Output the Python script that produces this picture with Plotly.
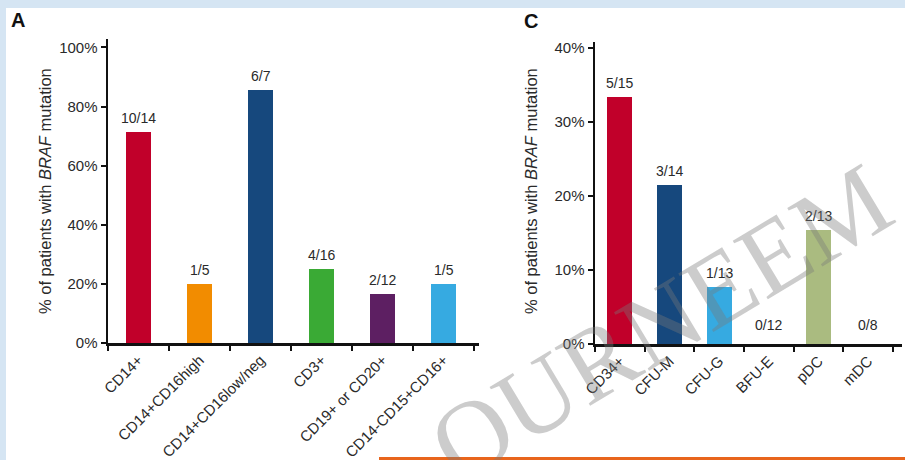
import plotly.graph_objects as go

W, H = 905, 460

# Panel A data
cats_a = ["CD14+", "CD14+CD16high", "CD14+CD16low/neg", "CD3+", "CD19+ or CD20+", "CD14-CD15+CD16+"]
pos_a = [10, 1, 6, 4, 2, 1]
tot_a = [14, 5, 7, 16, 12, 5]
colors_a = ["#C1002A", "#F28C00", "#16487D", "#3AAA35", "#5D1F62", "#36AAE1"]
yticks_a = [0, 20, 40, 60, 80, 100]

# Panel C data
cats_c = ["CD34+", "CFU-M", "CFU-G", "BFU-E", "pDC", "mDC"]
pos_c = [5, 3, 1, 0, 2, 0]
tot_c = [15, 14, 13, 12, 13, 8]
colors_c = ["#C1002A", "#16487D", "#36AAE1", "#36AAE1", "#AABB80", "#AABB80"]
yticks_c = [0, 10, 20, 30, 40]

ytitle = "% of patients with <i>BRAF</i> mutation"

FONT = "Liberation Sans, Arial, sans-serif"
TXT = "#2a2a2a"
BORDER = "#D5E5F3"

def px(x):
    return x / W

def py(y):
    return 1 - y / H

pct_a = [100 * p / t for p, t in zip(pos_a, tot_a)]
pct_c = [100 * p / t for p, t in zip(pos_c, tot_c)]

fig = go.Figure()
fig.add_trace(go.Bar(x=cats_a, y=pct_a, marker=dict(color=colors_a, line=dict(width=0)),
                     width=0.41, xaxis="x", yaxis="y", hoverinfo="skip"))
fig.add_trace(go.Bar(x=cats_c, y=pct_c, marker=dict(color=colors_c, line=dict(width=0)),
                     width=0.5, xaxis="x2", yaxis="y2", hoverinfo="skip"))

axis_common = dict(showgrid=False, zeroline=False, showline=True, linecolor="#111", linewidth=2.5,
                   ticks="outside", tickcolor="#111", tickwidth=2, ticklen=5, automargin=False,
                   fixedrange=True)
xfont = dict(family=FONT, size=15, color=TXT)
yfont = dict(family=FONT, size=15, color=TXT)

fig.update_layout(
    width=W, height=H, margin=dict(l=0, r=0, t=0, b=0, autoexpand=False),
    paper_bgcolor="white", plot_bgcolor="rgba(0,0,0,0)", showlegend=False,
    bargap=0,
    xaxis=dict(domain=[px(108), px(479)], anchor="y", type="category", tickfont=xfont,
               range=[-0.5, 5.58], tickson="boundaries", tickangle=-45, **axis_common),
    yaxis=dict(domain=[py(343), py(39)], anchor="x", range=[0, 102.85], tickfont=yfont,
               tickvals=yticks_a, ticktext=[f"{v}%" for v in yticks_a], **axis_common),
    xaxis2=dict(domain=[px(595), px(902)], anchor="y2", type="category", tickfont=xfont,
                range=[-0.5, 5.68], tickson="boundaries", tickangle=-45, **axis_common),
    yaxis2=dict(domain=[py(344), py(42)], anchor="x2", range=[0, 40.8], tickfont=yfont,
                tickvals=yticks_c, ticktext=[f"{v}%" for v in yticks_c], **axis_common),
)

# Blue border strips (top and left) and orange line
fig.add_shape(type="rect", xref="paper", yref="paper", x0=-0.01, x1=1.01, y0=py(8), y1=1.01,
              fillcolor=BORDER, line=dict(width=0), layer="below")
fig.add_shape(type="rect", xref="paper", yref="paper", x0=-0.01, x1=px(6), y0=-0.01, y1=1.01,
              fillcolor=BORDER, line=dict(width=0), layer="below")
fig.add_shape(type="rect", xref="paper", yref="paper", x0=px(379), x1=1.01, y0=-0.01, y1=py(457),
              fillcolor="#E8651C", line=dict(width=0), layer="above")

ann = []
for c, v, p, t in zip(cats_a, pct_a, pos_a, tot_a):
    ann.append(dict(x=c, y=v, xref="x", yref="y", text=f"{p}/{t}", showarrow=False,
                    yanchor="bottom", yshift=4 if v > 0 else 9,
                    font=dict(family=FONT, size=14, color=TXT)))
for c, v, p, t in zip(cats_c, pct_c, pos_c, tot_c):
    ann.append(dict(x=c, y=v, xref="x2", yref="y2", text=f"{p}/{t}", showarrow=False,
                    yanchor="bottom", yshift=4 if v > 0 else 9,
                    font=dict(family=FONT, size=14, color=TXT)))

ann.append(dict(x=px(45), y=py(191), xref="paper", yref="paper", text=ytitle, textangle=-90,
                xanchor="center", yanchor="middle",
                showarrow=False, font=dict(family=FONT, size=16.5, color=TXT)))
ann.append(dict(x=px(531), y=py(191), xref="paper", yref="paper", text=ytitle, textangle=-90,
                xanchor="center", yanchor="middle",
                showarrow=False, font=dict(family=FONT, size=16.5, color=TXT)))
ann.append(dict(x=px(9), y=py(20), xref="paper", yref="paper", text="<b>A</b>", showarrow=False,
                xanchor="left", yanchor="middle", font=dict(family=FONT, size=20, color="#111")))
ann.append(dict(x=px(522), y=py(21), xref="paper", yref="paper", text="<b>C</b>", showarrow=False,
                xanchor="left", yanchor="middle", font=dict(family=FONT, size=20, color="#111")))

# Watermark
ann.append(dict(x=px(660), y=py(322), xref="paper", yref="paper", text="OURNEEM", textangle=-31,
                xanchor="center", yanchor="middle",
                showarrow=False, font=dict(family="Liberation Serif, serif", size=104,
                                           color="rgba(120,120,120,0.38)")))

fig.update_layout(annotations=ann)
fig.write_html("out.html", config={"displayModeBar": False, "staticPlot": True},
               post_script=("document.documentElement.style.margin='0';"
                            "document.documentElement.style.overflow='hidden';"
                            "document.body.style.margin='0';document.body.style.padding='0';"
                            "document.body.style.overflow='hidden';"))
